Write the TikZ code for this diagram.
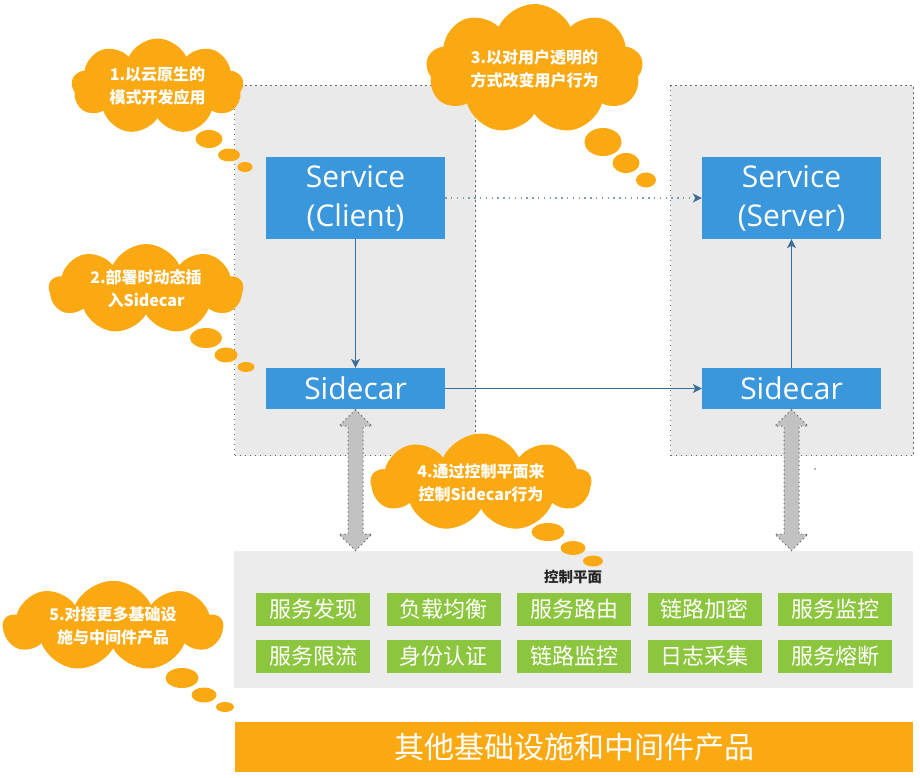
\documentclass[tikz,border=0pt]{standalone}
\usepackage{fontspec}
\setmainfont{Noto Sans CJK SC}
\newfontfamily\latinsans{Open Sans}
\usetikzlibrary{shapes.symbols,shapes.geometric,shapes.arrows,arrows.meta,calc}
\definecolor{orng}{HTML}{FBA912}
\definecolor{bluebox}{HTML}{3A97DB}
\definecolor{greenbox}{HTML}{8CC63F}
\definecolor{pane}{HTML}{EAEAEA}
\definecolor{cpane}{HTML}{ECECEC}
\definecolor{linkc}{HTML}{3A6D9A}
\definecolor{dotlink}{HTML}{7F9DBB}
\definecolor{dotc}{HTML}{6A6A6A}
\definecolor{ctrlgray}{HTML}{C2C2C2}
\begin{document}
\begin{tikzpicture}[x=1pt,y=-1pt,
  container/.style={fill=pane, draw=dotc, line width=1.1pt, dash pattern=on 1.2pt off 3.8pt, anchor=north west, inner sep=0},
  svc/.style={fill=bluebox, text=white, font=\latinsans\fontsize{30}{39}\selectfont, align=center, inner sep=0, minimum width=179pt, minimum height=82pt},
  side/.style={svc, minimum height=41pt},
  thought/.style={cloud, cloud puffs=9, cloud puff arc=130, cloud ignores aspect, fill=orng, text=white, font=\bfseries\fontsize{16}{23}\selectfont, align=center, inner sep=0},
  bubble/.style={ellipse, fill=orng, inner sep=0},
  feat/.style={fill=greenbox, text=white, font=\fontsize{22}{22}\selectfont, minimum width=114pt, minimum height=33pt, inner sep=0},
  link/.style={draw=linkc, line width=1pt, -{Stealth[length=9pt,width=9pt,inset=2.5pt]}},
  dotlinkst/.style={draw=dotlink, line width=1.3pt, dash pattern=on 1.4pt off 4.4pt, -{Stealth[length=9pt,width=9pt,inset=2.5pt,color=linkc]}},
  ctrlarrow/.style={double arrow, rotate=90, fill=ctrlgray, draw=dotc, line width=1pt, dash pattern=on 1.2pt off 3pt, inner xsep=0, inner ysep=7pt, double arrow head extend=9pt, minimum height=141pt, font=\fontsize{1}{1}\selectfont}
]
\useasboundingbox (0,0) rectangle (920,778);

% containers
\node[container, minimum width=241pt, minimum height=370pt] (lc) at (234,85) {};
\node[container, minimum width=243pt, minimum height=370pt] (rc) at (670,85) {};

% service boxes
\node[svc] (cli) at (355.5,198) {Service\\(Client)};
\node[svc] (srv) at (791.5,198) {Service\\(Server)};
\node[side] (ls) at (355.5,388.5) {Sidecar};
\node[side] (rs) at (791.5,388.5) {Sidecar};

% connectors
\draw[link] (cli.south) -- (ls.north);
\draw[link] (rs.north) -- (srv.south);
\draw[link] (ls.east) -- (rs.west);
\draw[dotlinkst] (cli.east) -- (srv.west);

% control plane
\node[fill=cpane, anchor=north west, minimum width=679pt, minimum height=137pt, inner sep=0] (cp) at (234,551) {};
\node[font=\bfseries\fontsize{14.5}{14.5}\selectfont, text=black!85] (cpt) at (573,577) {控制平面};
\foreach \t [count=\i from 0] in {服务发现,负载均衡,服务路由,链路加密,服务监控,服务限流,身份认证,链路监控,日志采集,服务熔断}{
  \pgfmathtruncatemacro{\col}{mod(\i,5)}
  \pgfmathtruncatemacro{\row}{int(\i/5)}
  \node[feat] (f\i) at ({313+130.5*\col},{609+47.5*\row}) {\t};
}

% gray double arrows
\node[ctrlarrow] (la) at ($(ls.south)!0.5!(ls.south |- cp.north)$) {};
\node[ctrlarrow] (ra) at ($(rs.south)!0.5!(rs.south |- cp.north)$) {};
\fill[dotc] (815,469) circle (0.9pt);

% bottom bar
\node[fill=orng, anchor=north west, minimum width=678pt, minimum height=50pt, inner sep=0, text=white, font=\fontsize{30}{30}\selectfont] (infra) at (235,722) {其他基础设施和中间件产品};

% clouds
\node[thought, minimum width=172pt, minimum height=96pt] (c1) at (157.5,86.5) {1.以云原生的\\模式开发应用};
\node[bubble, minimum width=27pt, minimum height=18pt] (c1a) at (209,139) {};
\node[bubble, minimum width=22pt, minimum height=13pt] (c1b) at (229,155) {};
\node[bubble, minimum width=15pt, minimum height=10pt] (c1c) at (245,167) {};

\node[thought, minimum width=194pt, minimum height=90pt] (c2) at (146,289) {2.部署时动态插\\入Sidecar};
\node[bubble, minimum width=32pt, minimum height=20pt] (c2a) at (206,338) {};
\node[bubble, minimum width=23pt, minimum height=15pt] (c2b) at (226,355) {};
\node[bubble, minimum width=17pt, minimum height=10pt] (c2c) at (246,367) {};

\node[thought, minimum width=217pt, minimum height=130pt] (c3) at (534.5,69) {3.以对用户透明的\\方式改变用户行为};
\node[bubble, minimum width=37pt, minimum height=28pt] (c3a) at (603,142) {};
\node[bubble, minimum width=27pt, minimum height=20pt] (c3b) at (626,163) {};
\node[bubble, minimum width=20pt, minimum height=15pt] (c3c) at (646,180) {};

\node[thought, minimum width=220pt, minimum height=98pt] (c4) at (481,482.5) {4.通过控制平面来\\控制Sidecar行为};
\node[bubble, minimum width=33pt, minimum height=18pt] (c4a) at (548,532) {};
\node[bubble, minimum width=25pt, minimum height=14pt] (c4b) at (573,548) {};
\node[bubble, minimum width=20pt, minimum height=11pt] (c4c) at (593,561) {};

\node[thought, minimum width=219pt, minimum height=85pt] (c5) at (113,626) {5.对接更多基础设\\施与中间件产品};
\node[bubble, minimum width=33pt, minimum height=20pt] (c5a) at (182,678) {};
\node[bubble, minimum width=25pt, minimum height=15pt] (c5b) at (204,695) {};
\node[bubble, minimum width=18pt, minimum height=10pt] (c5c) at (225,707) {};
\end{tikzpicture}
\end{document}
